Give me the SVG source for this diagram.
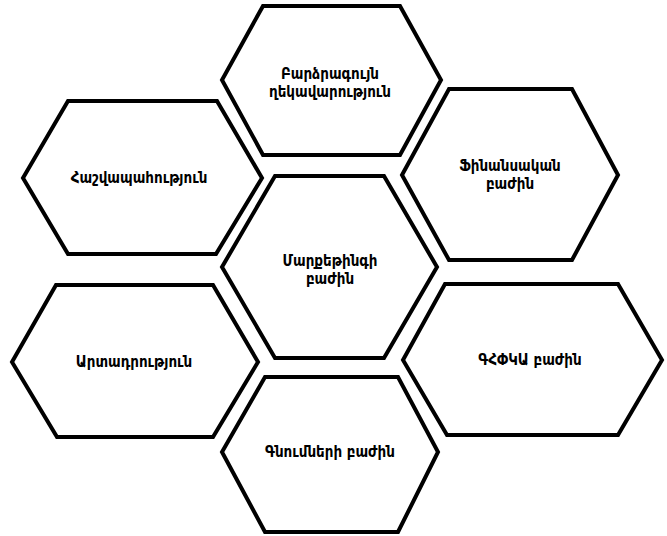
<svg xmlns="http://www.w3.org/2000/svg" width="667" height="536" viewBox="0 0 667 536">
<style>
.hex{fill:#ffffff;stroke:#000000;stroke-width:4;stroke-linejoin:miter}
.lbl{font-family:"DejaVu Sans Condensed","DejaVu Sans",sans-serif;font-weight:bold;font-size:15px;fill:#000000;text-anchor:middle}
</style>
<rect width="667" height="536" fill="#ffffff"/>
<g id="connectors"></g>
<g id="node-top">
<polygon class="hex" points="263,6 400,6 441,80 400,155 263,155 222,80"/>
<text class="lbl" x="330" y="79">Բարձրագույն</text>
<text class="lbl" x="330" y="97">ղեկավարություն</text>
</g>
<g id="node-accounting">
<polygon class="hex" points="68,101 217,101 262,178 216,254 68,254 23,178"/>
<text class="lbl" x="139" y="183">Հաշվապահություն</text>
</g>
<g id="node-finance">
<polygon class="hex" points="449,89 572,89 618,175 572,260 449,260 402,175"/>
<text class="lbl" x="510" y="171">Ֆինանսական</text>
<text class="lbl" x="510" y="189">բաժին</text>
</g>
<g id="node-marketing">
<polygon class="hex" points="275,176 384,176 437,267 384,358 275,358 222,267"/>
<text class="lbl" x="330" y="266">Մարքեթինգի</text>
<text class="lbl" x="330" y="284">բաժին</text>
</g>
<g id="node-production">
<polygon class="hex" points="56,285 213,285 258,362 213,437 57,437 12,362"/>
<text class="lbl" x="134" y="367">Արտադրություն</text>
</g>
<g id="node-rnd">
<polygon class="hex" points="445,284 618,284 662,360 618,435 447,435 403,360"/>
<text class="lbl" x="530" y="365">ԳՀՓԿԱ բաժին</text>
</g>
<g id="node-purchasing">
<polygon class="hex" points="265,377 398,377 438,452 398,532 265,532 222,452"/>
<text class="lbl" x="330" y="457">Գնումների բաժին</text>
</g>
</svg>
